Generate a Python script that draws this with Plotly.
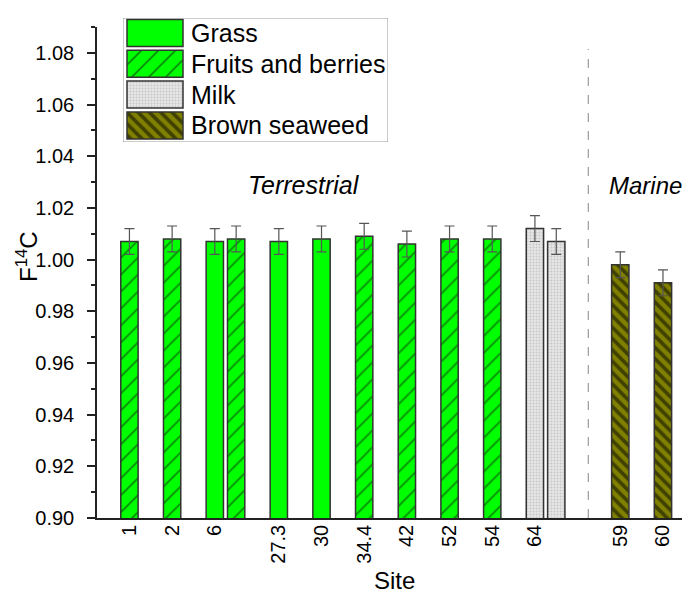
import plotly.graph_objects as go

# ---------------- data ----------------
tick_labels = ["1", "2", "6", "27.3", "30", "34.4", "42", "52", "54", "64", "59", "60"]

grass_sites = ["6", "27.3", "30"]
grass_values = [1.007, 1.007, 1.008]
grass_errors = [0.005, 0.005, 0.005]

fruit_sites = ["1", "2", "6", "34.4", "42", "52", "54"]
fruit_values = [1.007, 1.008, 1.008, 1.009, 1.006, 1.008, 1.008]
fruit_errors = [0.005, 0.005, 0.005, 0.005, 0.005, 0.005, 0.005]

milk_sites = ["64", "64"]
milk_values = [1.012, 1.007]
milk_errors = [0.005, 0.005]

seaweed_sites = ["59", "60"]
seaweed_values = [0.998, 0.991]
seaweed_errors = [0.005, 0.005]

legend_names = ["Grass", "Fruits and berries", "Milk", "Brown seaweed"]

# ---------------- layout helpers ----------------
tick_slots = [0, 1, 2, 3.5, 4.5, 5.5, 6.5, 7.5, 8.5, 9.5, 11.5, 12.5]
slot_of = dict(zip(tick_labels, tick_slots))
_used = {}


def positions(sites):
    xs = []
    for s in sites:
        k = _used.get(s, 0)
        xs.append(slot_of[s] + 0.5 * k)
        _used[s] = k + 1
    return xs


FONT = "Liberation Sans, Arial, sans-serif"
BAR_W = 0.406
OUTLINE = dict(color="#333333", width=1.5)
ERR = dict(type="data", thickness=1.2, width=5, color="#555555")

styles = {
    "Grass": dict(color="#00FF00"),
    "Fruits and berries": dict(color="#00FF00",
                               pattern=dict(shape="/", fgcolor="#111111", size=12, solidity=0.14)),
    "Milk": dict(color="#E6E6E6",
                 pattern=dict(shape=".", fgcolor="#A8A8A8", size=3, solidity=0.35)),
    "Brown seaweed": dict(color="#808000",
                          pattern=dict(shape="\\", fgcolor="#000000", size=8, solidity=0.45)),
}

series = [
    ("Grass", grass_sites, grass_values, grass_errors),
    ("Fruits and berries", fruit_sites, fruit_values, fruit_errors),
    ("Milk", milk_sites, milk_values, milk_errors),
    ("Brown seaweed", seaweed_sites, seaweed_values, seaweed_errors),
]

fig = go.Figure()
for name, sites, vals, errs in series:
    xs = positions(sites)
    fig.add_trace(go.Bar(
        x=xs, y=vals, width=BAR_W, name=name, showlegend=False,
        marker=dict(line=OUTLINE, **styles[name]),
        error_y=dict(array=errs, **ERR),
    ))

# ---------------- geometry (page has an 8px body margin) ----------------
OFF = 8
W, H = 690 - OFF, 597 - OFF
L, R, T, B = 97 - OFF, 1, 10 - OFF, 87 - OFF
pw, ph = W - L - R, H - T - B


def px(xw):  # window x -> paper x
    return (xw - OFF - L) / pw


def py(yw):  # window y -> paper y
    return (H - B - (yw - OFF)) / ph


# custom legend on overlay axes
box_x0, box_x1, box_y0, box_y1 = 123, 388, 18, 142
row_h = 30.8
for i, name in enumerate(legend_names):
    top = 1.5 + i * row_h
    fig.add_trace(go.Bar(
        x=[32], y=[27], base=[top], width=[56], xaxis="x2", yaxis="y2",
        marker=dict(line=OUTLINE, **styles[name]), showlegend=False, hoverinfo="skip",
    ))
    fig.add_annotation(x=66, y=top + 13.5, xref="x2", yref="y2", text=name,
                       showarrow=False, xanchor="left", yanchor="middle",
                       font=dict(family=FONT, size=25, color="black"))
fig.add_shape(type="rect", xref="x2", yref="y2", x0=0, x1=box_x1 - box_x0,
              y0=0, y1=box_y1 - box_y0, line=dict(color="#999999", width=1))

# separator between terrestrial and marine
sep_x = (10.0 + 11.5) / 2
fig.add_shape(type="line", xref="x", yref="y", x0=sep_x, x1=sep_x, y0=0.90, y1=1.0815,
              line=dict(color="#888888", width=1, dash="dash"))

fig.add_annotation(x=4.09, y=1.0287, xref="x", yref="y", text="<i>Terrestrial</i>",
                   showarrow=False, xanchor="center", yanchor="middle",
                   font=dict(family=FONT, size=25, color="black"))
fig.add_annotation(x=12.08, y=1.0287, xref="x", yref="y", text="<i>Marine</i>",
                   showarrow=False, xanchor="center", yanchor="middle",
                   font=dict(family=FONT, size=24, color="black"))

# axis titles
fig.add_annotation(x=px(27), y=py(257), xref="paper", yref="paper",
                   text="F<sup>14</sup>C", textangle=-90, showarrow=False,
                   xanchor="center", yanchor="middle",
                   font=dict(family=FONT, size=24, color="black"))
fig.add_annotation(x=px(394), y=py(580), xref="paper", yref="paper",
                   text="Site", showarrow=False, xanchor="center", yanchor="middle",
                   font=dict(family=FONT, size=24, color="black"))

fig.update_layout(
    width=W, height=H, margin=dict(l=L, r=R, t=T, b=B, pad=0),
    paper_bgcolor="white", plot_bgcolor="white", barmode="overlay",
    font=dict(family=FONT, size=20, color="black"),
    xaxis=dict(range=[-0.76, 13.11], tickmode="array", tickvals=tick_slots,
               ticktext=tick_labels, tickangle=-90, ticks="", showgrid=False,
               zeroline=False, showline=True, linecolor="#222222", linewidth=1.5,
               ticklabelstandoff=-3, tickfont=dict(family=FONT, size=20, color="black")),
    yaxis=dict(domain=[0, py(27)], range=[0.90, 1.09], tick0=0.90, dtick=0.02,
               tickformat=".2f", ticks="outside", ticklen=8, tickwidth=1.5, tickcolor="#222222",
               minor=dict(ticks="outside", dtick=0.01, ticklen=4, tickwidth=1.5, tickcolor="#222222"),
               showgrid=False, zeroline=False, showline=True, linecolor="#222222",
               linewidth=1.5, ticklabelstandoff=9,
               tickfont=dict(family=FONT, size=20, color="black")),
    xaxis2=dict(domain=[px(box_x0), px(box_x1)], range=[0, box_x1 - box_x0],
                anchor="y2", visible=False, fixedrange=True),
    yaxis2=dict(domain=[py(box_y1), py(box_y0)],
                range=[box_y1 - box_y0, 0], anchor="x2", visible=False, fixedrange=True),
)

fig.write_html("out.html")
